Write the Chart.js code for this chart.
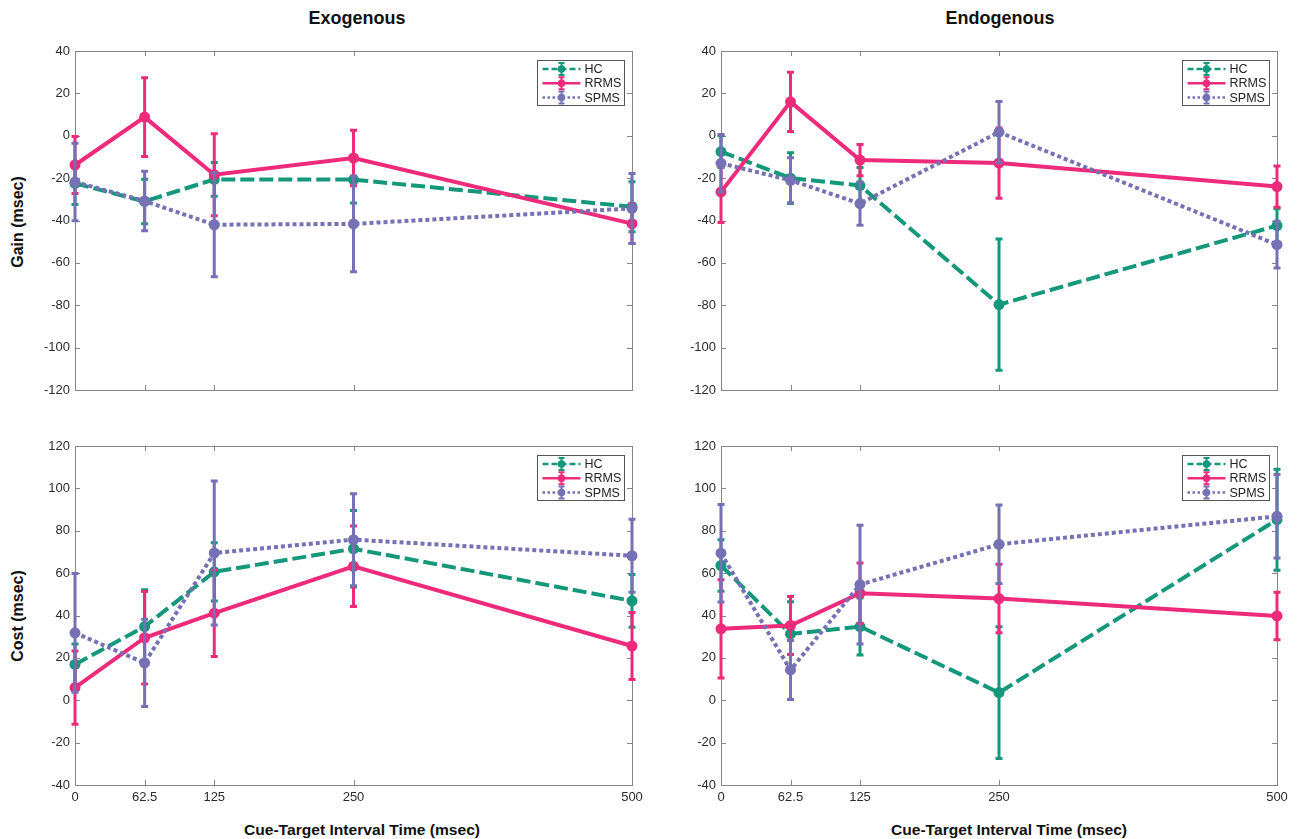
<!DOCTYPE html>
<html>
<head>
<meta charset="utf-8">
<title>Gain and Cost by Cue-Target Interval</title>
<script src="https://cdn.jsdelivr.net/npm/chart.js@4.4.1/dist/chart.umd.min.js"></script>
<style>
  html, body { margin: 0; padding: 0; background: #fff; }
  #page { position: relative; width: 1299px; height: 839px; overflow: hidden; background: #fff;
          font-family: "Liberation Sans", Arial, sans-serif; }
  #page canvas { position: absolute; }
  .title { position: absolute; font-weight: bold; font-size: 18px; color: #111;
           transform: translate(-50%, -50%); white-space: nowrap; }
  .ytitle { position: absolute; font-weight: bold; font-size: 16px; color: #111;
            transform: translate(-50%, -50%) rotate(-90deg); white-space: nowrap; }
  .xtitle { position: absolute; font-weight: bold; font-size: 15px; color: #111;
            font-family: "Liberation Sans Narrow", "Arial Narrow", "Liberation Sans", Arial, sans-serif;
            transform: translate(-50%, -50%) scaleX(1.04); white-space: nowrap; }
</style>
</head>
<body>
<div id="page">
  <div class="title" style="left:357px; top:18px;">Exogenous</div>
  <div class="title" style="left:1000px; top:18px;">Endogenous</div>
  <div class="ytitle" style="left:18px; top:222px;">Gain (msec)</div>
  <div class="ytitle" style="left:18px; top:616px;">Cost (msec)</div>
  <div class="xtitle" style="left:362px; top:829px;">Cue-Target Interval Time (msec)</div>
  <div class="xtitle" style="left:1009px; top:829px;">Cue-Target Interval Time (msec)</div>
  <canvas id="exoGain" width="650" height="375" style="left:0px; top:35px;"></canvas>
  <canvas id="endoGain" width="650" height="375" style="left:648px; top:35px;"></canvas>
  <canvas id="exoCost" width="650" height="380" style="left:0px; top:430px;"></canvas>
  <canvas id="endoCost" width="650" height="380" style="left:648px; top:430px;"></canvas>
</div>
<script>
// Cue-target intervals (msec)
const intervals = [0, 62.5, 125, 250, 500];
const gainTicks = [-120, -100, -80, -60, -40, -20, 0, 20, 40];
const costTicks = [-40, -20, 0, 20, 40, 60, 80, 100, 120];
const groups = ['HC', 'RRMS', 'SPMS'];

// Exogenous gain: group means and error-bar half widths (msec)
const exoGainHC = [-22.5, -31, -20.6, -20.7, -33.5];
const exoGainHCErr = [10, 10.5, 8, 11, 11.8];
const exoGainRRMS = [-13.8, 8.8, -18.4, -10.5, -41.5];
const exoGainRRMSErr = [13.4, 18.6, 19.4, 13.1, 9.3];
const exoGainSPMS = [-21.8, -30.8, -42, -41.6, -34.3];
const exoGainSPMSErr = [18.3, 14, 24.5, 22.6, 16.5];

// Endogenous gain
const endoGainHC = [-7.5, -20, -23.5, -79.7, -42.4];
const endoGainHCErr = [7.5, 12, 8.5, 31, 8];
const endoGainRRMS = [-26.5, 16, -11.5, -12.9, -24];
const endoGainRRMSErr = [14.5, 14, 7.4, 16.6, 9.7];
const endoGainSPMS = [-13, -21, -32, 1.7, -51.4];
const endoGainSPMSErr = [13.6, 10.6, 10.2, 14.5, 11];

// Exogenous cost
const exoCostHC = [16.9, 34.8, 60.6, 71.5, 46.9];
const exoCostHCErr = [9.7, 17.4, 13.7, 18, 12.5];
const exoCostRRMS = [6, 29.5, 41.1, 63.2, 25.6];
const exoCostRRMSErr = [17.3, 21.8, 20.4, 19, 15.8];
const exoCostSPMS = [31.8, 17.6, 69.5, 75.8, 68.2];
const exoCostSPMSErr = [28, 20.6, 34, 21.7, 17.2];

// Endogenous cost
const endoCostHC = [63.6, 31.3, 34.8, 3.6, 85.2];
const endoCostHCErr = [12.2, 15.2, 13.5, 31.1, 23.8];
const endoCostRRMS = [33.7, 35.3, 50.5, 48, 39.8];
const endoCostRRMSErr = [23.2, 13.7, 14.3, 16.2, 11.2];
const endoCostSPMS = [69.4, 14.3, 54.6, 73.6, 86.8];
const endoCostSPMSErr = [23, 13.9, 28, 18.5, 19.7];

const styles = {
  HC:   { color: '#14977A', dash: [14, 5], legendDash: [6, 3] },
  RRMS: { color: '#EE2A7B', dash: [], legendDash: [] },
  SPMS: { color: '#7571B4', dash: [4, 3], legendDash: [2.5, 2.5] }
};

const tickFont = { family: '"Liberation Sans Narrow", "Arial Narrow", "Liberation Sans", Arial, sans-serif', size: 13 };
const tickColor = '#2b2b2b';
const frameColor = '#858585';

const panels = [
  { id: 'exoGain', canvas: { left: 0, top: 35, w: 650, h: 375 }, area: { left: 75, top: 51, right: 632, bottom: 390 },
    xLabels: false, yTicks: gainTicks,
    series: [[exoGainHC, exoGainHCErr], [exoGainRRMS, exoGainRRMSErr], [exoGainSPMS, exoGainSPMSErr]] },
  { id: 'endoGain', canvas: { left: 648, top: 35, w: 650, h: 375 }, area: { left: 721, top: 51, right: 1277, bottom: 390 },
    xLabels: false, yTicks: gainTicks,
    series: [[endoGainHC, endoGainHCErr], [endoGainRRMS, endoGainRRMSErr], [endoGainSPMS, endoGainSPMSErr]] },
  { id: 'exoCost', canvas: { left: 0, top: 430, w: 650, h: 380 }, area: { left: 75, top: 446, right: 632, bottom: 785 },
    xLabels: true, yTicks: costTicks,
    series: [[exoCostHC, exoCostHCErr], [exoCostRRMS, exoCostRRMSErr], [exoCostSPMS, exoCostSPMSErr]] },
  { id: 'endoCost', canvas: { left: 648, top: 430, w: 650, h: 380 }, area: { left: 721, top: 446, right: 1277, bottom: 785 },
    xLabels: true, yTicks: costTicks,
    series: [[endoCostHC, endoCostHCErr], [endoCostRRMS, endoCostRRMSErr], [endoCostSPMS, endoCostSPMSErr]] }
];

// Axes box with inward tick marks on all four sides
const framePlugin = {
  id: 'frame',
  beforeDatasetsDraw(chart) {
    const { ctx, chartArea: a, scales: { x, y } } = chart;
    ctx.save();
    ctx.strokeStyle = frameColor;
    ctx.lineWidth = 1;
    ctx.strokeRect(Math.round(a.left) + 0.5, Math.round(a.top) + 0.5,
                   Math.round(a.right - a.left), Math.round(a.bottom - a.top));
    const len = 5;
    ctx.beginPath();
    y.ticks.forEach(t => {
      const py = Math.round(y.getPixelForValue(t.value)) + 0.5;
      ctx.moveTo(a.left, py); ctx.lineTo(a.left + len, py);
      ctx.moveTo(a.right, py); ctx.lineTo(a.right - len, py);
    });
    x.ticks.forEach(t => {
      const px = Math.round(x.getPixelForValue(t.value)) + 0.5;
      ctx.moveTo(px, a.top); ctx.lineTo(px, a.top + len);
      ctx.moveTo(px, a.bottom); ctx.lineTo(px, a.bottom - len);
    });
    ctx.stroke();
    ctx.restore();
  }
};

// Vertical error bars with caps, drawn just beneath each series
const errorBarPlugin = {
  id: 'errorBars',
  beforeDatasetDraw(chart, args) {
    const ds = chart.data.datasets[args.index];
    if (!ds.err) return;
    const { ctx, scales: { x, y } } = chart;
    ctx.save();
    ctx.strokeStyle = ds.borderColor;
    ctx.lineWidth = 3;
    ctx.setLineDash([]);
    ctx.lineCap = 'butt';
    ds.data.forEach((pt, j) => {
      const px = x.getPixelForValue(pt.x);
      const hi = y.getPixelForValue(pt.y + ds.err[j]);
      const lo = y.getPixelForValue(pt.y - ds.err[j]);
      ctx.beginPath();
      ctx.moveTo(px, hi); ctx.lineTo(px, lo);
      ctx.moveTo(px - 3.5, hi); ctx.lineTo(px + 3.5, hi);
      ctx.moveTo(px - 3.5, lo); ctx.lineTo(px + 3.5, lo);
      ctx.stroke();
    });
    ctx.restore();
  }
};

// Boxed legend in the upper right corner of each axes
const legendBoxPlugin = {
  id: 'legendBox',
  afterDraw(chart) {
    const { ctx, chartArea: a } = chart;
    const w = 87, h = 45;
    const bx = Math.round(a.right - 8 - w) + 0.5;
    const by = Math.round(a.top + 9) + 0.5;
    ctx.save();
    ctx.fillStyle = '#fff';
    ctx.strokeStyle = '#555';
    ctx.lineWidth = 1;
    ctx.fillRect(bx, by, w, h);
    ctx.strokeRect(bx, by, w, h);
    chart.data.datasets.forEach((ds, i) => {
      const st = styles[ds.label];
      const cy = by + 8.5 + i * 14.3;
      const x0 = bx + 5, x1 = bx + 43, cx = (x0 + x1) / 2;
      ctx.strokeStyle = st.color;
      ctx.fillStyle = st.color;
      ctx.lineWidth = 2.5;
      ctx.setLineDash(st.legendDash);
      ctx.beginPath(); ctx.moveTo(x0, cy); ctx.lineTo(x1, cy); ctx.stroke();
      ctx.setLineDash([]);
      ctx.lineWidth = 2;
      ctx.beginPath();
      ctx.moveTo(cx, cy - 6); ctx.lineTo(cx, cy + 6);
      ctx.moveTo(cx - 3, cy - 6); ctx.lineTo(cx + 3, cy - 6);
      ctx.moveTo(cx - 3, cy + 6); ctx.lineTo(cx + 3, cy + 6);
      ctx.stroke();
      ctx.beginPath(); ctx.arc(cx, cy, 3.8, 0, Math.PI * 2); ctx.fill();
      ctx.fillStyle = '#222';
      ctx.font = '12.5px ' + tickFont.family;
      ctx.textBaseline = 'middle';
      ctx.textAlign = 'left';
      ctx.fillText(ds.label, bx + 47, cy + 0.5);
    });
    ctx.restore();
  }
};

panels.forEach(p => {
  const xAxisHeight = p.xLabels ? 22 : 0;
  const yMin = p.yTicks[0], yMax = p.yTicks[p.yTicks.length - 1];
  const datasets = groups.map((g, i) => ({
    label: g,
    data: intervals.map((v, j) => ({ x: v, y: p.series[i][0][j] })),
    err: p.series[i][1],
    borderColor: styles[g].color,
    backgroundColor: styles[g].color,
    borderWidth: 4,
    borderDash: styles[g].dash,
    borderCapStyle: 'butt',
    pointRadius: 5.5,
    pointBorderWidth: 0,
    pointBackgroundColor: styles[g].color,
    tension: 0,
    clip: false,
    order: 2 - i
  }));
  new Chart(document.getElementById(p.id), {
    type: 'line',
    data: { datasets },
    options: {
      responsive: false,
      animation: false,
      events: [],
      layout: {
        padding: {
          left: 0,
          top: p.area.top - p.canvas.top,
          right: p.canvas.left + p.canvas.w - p.area.right,
          bottom: p.canvas.top + p.canvas.h - p.area.bottom - xAxisHeight
        }
      },
      plugins: { legend: { display: false }, tooltip: { enabled: false } },
      scales: {
        x: {
          type: 'linear', min: 0, max: 500,
          afterBuildTicks: s => { s.ticks = intervals.map(v => ({ value: v })); },
          afterFit: s => { s.height = xAxisHeight; },
          grid: { display: false, drawTicks: false },
          border: { display: false },
          ticks: {
            display: p.xLabels, padding: 5, autoSkip: false, maxRotation: 0,
            font: tickFont, color: tickColor, callback: v => String(v)
          }
        },
        y: {
          type: 'linear', min: yMin, max: yMax,
          afterBuildTicks: s => { s.ticks = p.yTicks.map(v => ({ value: v })); },
          afterFit: s => { s.width = p.area.left - p.canvas.left; },
          grid: { display: false, drawTicks: false },
          border: { display: false },
          ticks: { padding: 5, font: tickFont, color: tickColor, callback: v => String(v) }
        }
      }
    },
    plugins: [framePlugin, errorBarPlugin, legendBoxPlugin]
  });
});
</script>
</body>
</html>
